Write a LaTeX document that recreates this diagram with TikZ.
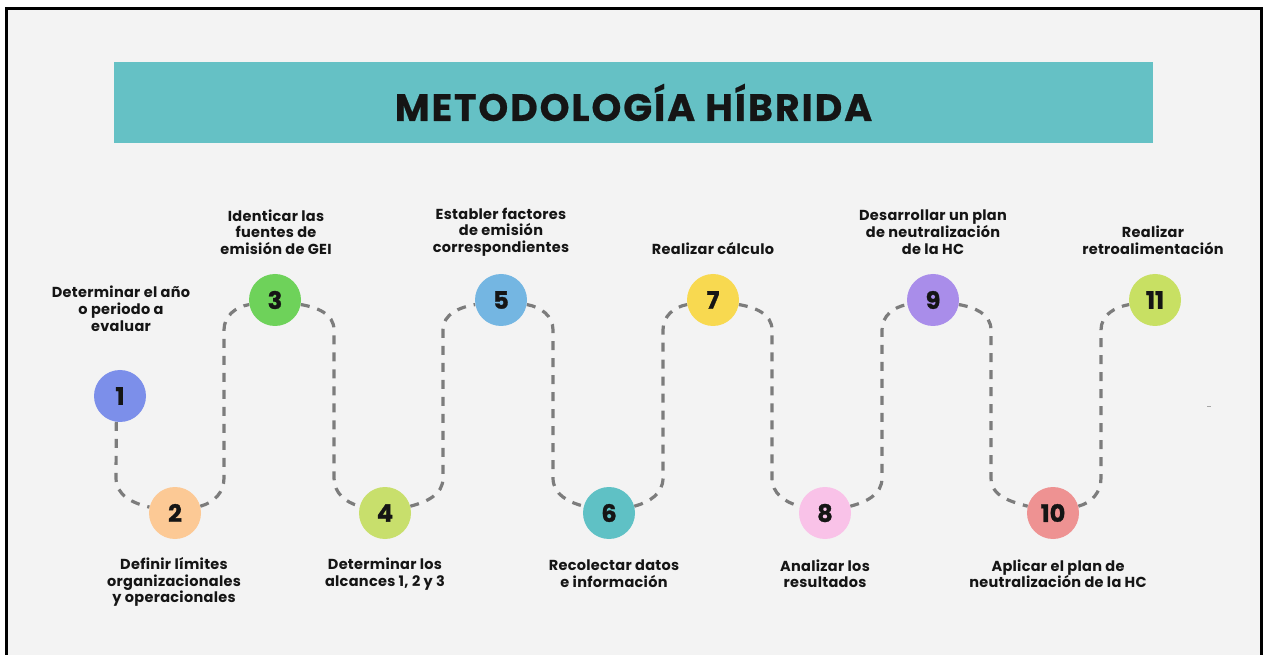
\documentclass[tikz,border=0pt]{standalone}
\usepackage{fontspec}
\setmainfont{Poppins}
\newfontfamily\labelfont{Poppins}[LetterSpace=2]
\newfontfamily\titlefont{Poppins}[LetterSpace=5, BoldFeatures={FakeBold=0.6}]
\newfontfamily\digitfont{Poppins}[BoldFeatures={FakeBold=1.2}]
\usetikzlibrary{backgrounds,calc}
\definecolor{bgc}{HTML}{F3F3F3}
\definecolor{banner}{HTML}{65C1C5}
\definecolor{dashc}{HTML}{7C7C7C}
\definecolor{txt}{HTML}{151515}
\definecolor{c1}{HTML}{7C8FEA}
\definecolor{c2}{HTML}{FCC995}
\definecolor{c3}{HTML}{6ED25A}
\definecolor{c4}{HTML}{C8DF6C}
\definecolor{c5}{HTML}{74B6E2}
\definecolor{c6}{HTML}{5FC1C5}
\definecolor{c7}{HTML}{F8D950}
\definecolor{c8}{HTML}{F9C2E8}
\definecolor{c9}{HTML}{A98DEA}
\definecolor{c10}{HTML}{EE9292}
\definecolor{c11}{HTML}{C8E063}
\tikzset{
  stepcircle/.style={circle, minimum size=52pt, inner sep=0pt, fill=#1, text=txt,
    font=\digitfont\fontsize{24}{24}\selectfont\bfseries},
  steplabel/.style={align=center, text=txt, inner sep=0pt,
    font=\labelfont\fontsize{14.5}{16.7}\selectfont\bfseries},
  dashline/.style={draw=dashc, line width=3.2pt, dash pattern=on 9pt off 8pt},
}
\begin{document}
\begin{tikzpicture}[x=1pt,y=1pt]
\useasboundingbox (0,0) rectangle (1264,654);
\begin{scope}[on background layer]
\fill[white] (0,0) rectangle (1264,654);
\fill[bgc] (6,-10) rectangle (1261,645);
\end{scope}
\draw[black, line width=3pt] (6,-10) -- (6,645) -- (1261,645) -- (1261,-10);
% banner
\node[fill=banner, minimum width=1039pt, minimum height=81pt, inner sep=0pt,
  font=\titlefont\fontsize{38}{38}\selectfont\bfseries, text=txt] (title) at (633.5,551.5) {METODOLOGÍA HÍBRIDA};
% circles
\node[stepcircle=c1]  (n1)  at (120,258) {1};
\node[stepcircle=c2]  (n2)  at (175,141) {2};
\node[stepcircle=c3]  (n3)  at (275,354) {3};
\node[stepcircle=c4]  (n4)  at (385,141) {4};
\node[stepcircle=c5]  (n5)  at (501,354) {5};
\node[stepcircle=c6]  (n6)  at (609,141) {6};
\node[stepcircle=c7]  (n7)  at (713,354) {7};
\node[stepcircle=c8]  (n8)  at (825,141) {8};
\node[stepcircle=c9]  (n9)  at (933,354) {9};
\node[stepcircle=c10] (n10) at (1053,141) {10};
\node[stepcircle=c11] (n11) at (1155,354) {11};
% labels
\node[steplabel] (l1) at (121,345.3) {Determinar el año\\o periodo a\\evaluar};
\node[steplabel] (l2) at (174,72) {Definir límites\\organizacionales\\y operacionales};
\node[steplabel] (l3) at (276,422) {Identicar las\\fuentes de\\emisión de GEI};
\node[steplabel] (l4) at (385,80.2) {Determinar los\\alcances 1, 2 y 3};
\node[steplabel] (l5) at (501,422) {Establer factores\\de emisión\\correspondientes};
\node[steplabel] (l6) at (614,80.2) {Recolectar datos\\e información};
\node[steplabel] (l7) at (713,405) {Realizar cálculo};
\node[steplabel] (l8) at (825,80.2) {Analizar los\\resultados};
\node[steplabel] (l9) at (933,422) {Desarrollar un plan\\de neutralización\\de la HC};
\node[steplabel] (l10) at (1058,80.2) {Aplicar el plan de\\neutralización de la HC};
\node[steplabel] (l11) at (1153,413.5) {Realizar\\retroalimentación};
% vertical guide coordinates
\coordinate (vt) at (0,324);
\coordinate (vb) at (0,176);
\coordinate (m12) at (116,0);
\coordinate (m23) at (224,0);
\coordinate (m34) at (334,0);
\coordinate (m45) at (443,0);
\coordinate (m56) at (553,0);
\coordinate (m67) at (663,0);
\coordinate (m78) at (772,0);
\coordinate (m89) at (882,0);
\coordinate (m910) at (991,0);
\coordinate (m1011) at (1101,0);
\begin{scope}[on background layer]
\draw[dashline] (n1.-98) -- (m12 |- vb) to[out=-90,in=167] (n2.167);
\draw[dashline] (n2.15) to[out=15,in=-90] (m23 |- vb) -- (m23 |- vt) to[out=90,in=190] (n3.190);
\draw[dashline] (n3.-10) to[out=-10,in=90] (m34 |- vt) -- (m34 |- vb) to[out=-90,in=165] (n4.165);
\draw[dashline] (n4.15) to[out=15,in=-90] (m45 |- vb) -- (m45 |- vt) to[out=90,in=190] (n5.190);
\draw[dashline] (n5.-10) to[out=-10,in=90] (m56 |- vt) -- (m56 |- vb) to[out=-90,in=165] (n6.165);
\draw[dashline] (n6.15) to[out=15,in=-90] (m67 |- vb) -- (m67 |- vt) to[out=90,in=190] (n7.190);
\draw[dashline] (n7.-10) to[out=-10,in=90] (m78 |- vt) -- (m78 |- vb) to[out=-90,in=165] (n8.165);
\draw[dashline] (n8.15) to[out=15,in=-90] (m89 |- vb) -- (m89 |- vt) to[out=90,in=190] (n9.190);
\draw[dashline] (n9.-10) to[out=-10,in=90] (m910 |- vt) -- (m910 |- vb) to[out=-90,in=165] (n10.165);
\draw[dashline] (n10.15) to[out=15,in=-90] (m1011 |- vb) -- (m1011 |- vt) to[out=90,in=190] (n11.190);
\end{scope}
\draw[gray!70, line width=0.8pt] (1207,248) -- (1211,248);
\end{tikzpicture}
\end{document}
